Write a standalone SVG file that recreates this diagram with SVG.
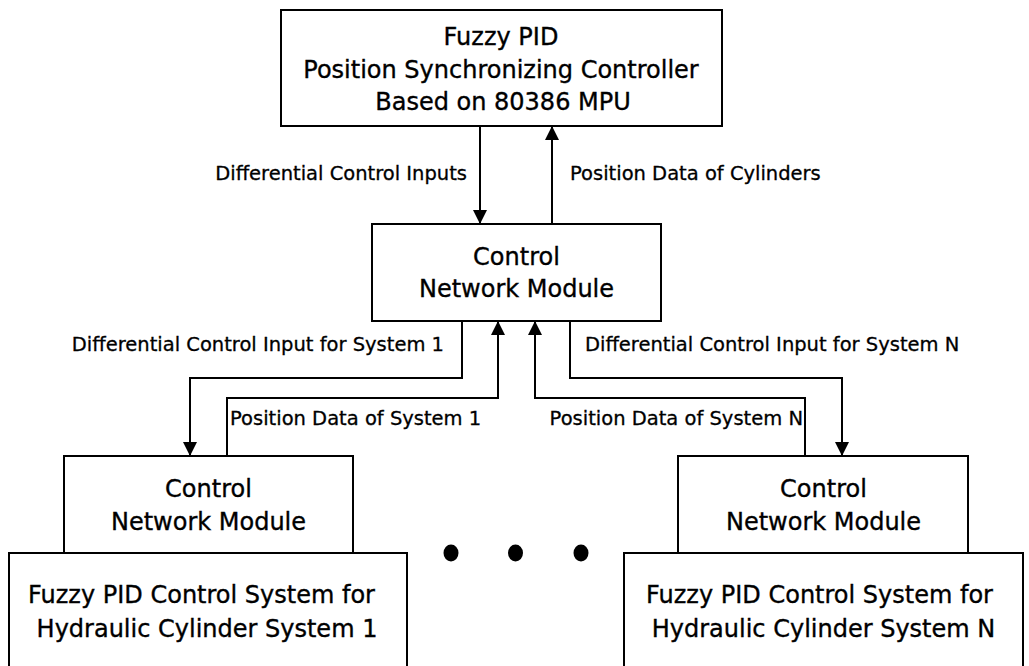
<svg xmlns="http://www.w3.org/2000/svg" width="1029" height="666" viewBox="0 0 1029 666">
  <style>
    .box { fill: #ffffff; stroke: #000000; stroke-width: 2; }
    .wire { fill: none; stroke: #000000; stroke-width: 2; }
    .t { font-family: "DejaVu Sans", "Liberation Sans", sans-serif; font-size: 24px; fill: #000000; stroke: #000000; stroke-width: 0.35; text-anchor: middle; }
    .lbl { font-family: "DejaVu Sans", "Liberation Sans", sans-serif; font-size: 19.5px; fill: #000000; stroke: #000000; stroke-width: 0.3; }
  </style>
  <defs>
    <marker id="arrow" viewBox="0 0 10 10" refX="10" refY="5" markerWidth="15" markerHeight="14" markerUnits="userSpaceOnUse" orient="auto">
      <path d="M0,0 L10,5 L0,10 Z" fill="#000000"/>
    </marker>
  </defs>
  <rect width="1029" height="666" fill="#ffffff"/>

  <!-- central controller -->
  <g id="controller">
    <rect class="box" x="281" y="10" width="441" height="116"/>
    <text class="t" x="501" y="45">Fuzzy PID</text>
    <text class="t" x="501" y="77.5">Position Synchronizing Controller</text>
    <text class="t" x="503" y="110">Based on 80386 MPU</text>
  </g>

  <!-- shared network module -->
  <g id="network-main">
    <rect class="box" x="372" y="224" width="289" height="97"/>
    <text class="t" x="516.5" y="265">Control</text>
    <text class="t" x="516.5" y="297">Network Module</text>
  </g>

  <!-- subsystem 1 -->
  <g id="system-1">
    <rect class="box" x="9" y="553" width="398" height="130"/>
    <text class="t" x="201.5" y="603">Fuzzy PID Control System for</text>
    <text class="t" x="207" y="637">Hydraulic Cylinder System 1</text>
  </g>
  <g id="network-1">
    <rect class="box" x="64" y="456" width="289" height="97"/>
    <text class="t" x="208.5" y="497">Control</text>
    <text class="t" x="208.5" y="530">Network Module</text>
  </g>

  <!-- subsystem N -->
  <g id="system-n">
    <rect class="box" x="624" y="553" width="399" height="130"/>
    <text class="t" x="819.5" y="603">Fuzzy PID Control System for</text>
    <text class="t" x="823.5" y="637">Hydraulic Cylinder System N</text>
  </g>
  <g id="network-n">
    <rect class="box" x="678" y="456" width="290" height="97"/>
    <text class="t" x="823.5" y="497">Control</text>
    <text class="t" x="823.5" y="530">Network Module</text>
  </g>

  <!-- ellipsis between subsystems -->
  <g id="ellipsis" fill="#000000">
    <ellipse cx="451" cy="553" rx="7.5" ry="8.5"/>
    <ellipse cx="515.5" cy="553" rx="7.5" ry="8.5"/>
    <ellipse cx="581" cy="553" rx="7.5" ry="8.5"/>
  </g>

  <!-- connectors -->
  <g id="connectors">
    <path class="wire" d="M480,126 V224" marker-end="url(#arrow)"/>
    <path class="wire" d="M552,224 V126" marker-end="url(#arrow)"/>
    <path class="wire" d="M462,321 V378 H190 V456" marker-end="url(#arrow)"/>
    <path class="wire" d="M227,456 V398 H498 V321" marker-end="url(#arrow)"/>
    <path class="wire" d="M805,456 V398 H535 V321" marker-end="url(#arrow)"/>
    <path class="wire" d="M570,321 V378 H842 V456" marker-end="url(#arrow)"/>
  </g>

  <!-- connector labels -->
  <g id="labels">
    <text class="lbl" x="467" y="180" text-anchor="end">Differential Control Inputs</text>
    <text class="lbl" x="570" y="180">Position Data of Cylinders</text>
    <text class="lbl" x="444" y="351" text-anchor="end">Differential Control Input for System 1</text>
    <text class="lbl" x="230" y="425">Position Data of System 1</text>
    <text class="lbl" x="585" y="351">Differential Control Input for System N</text>
    <text class="lbl" x="803" y="425" text-anchor="end">Position Data of System N</text>
  </g>
</svg>
